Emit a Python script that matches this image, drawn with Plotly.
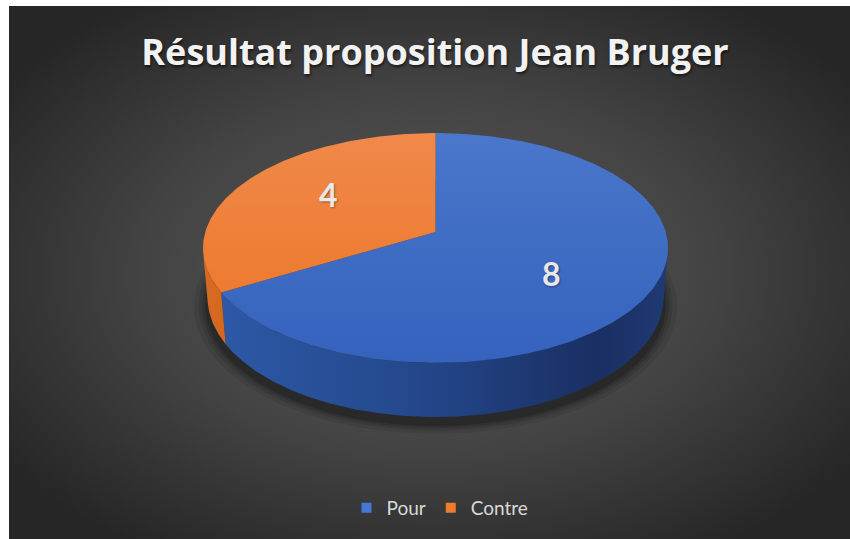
import base64
import numpy as np
import plotly.graph_objects as go

# ---- data ----
categories = ["Pour", "Contre"]
values = [8, 4]
title_text = "Résultat proposition Jean Bruger"

# ---- style ----
top_colors = [["#4a77ca", "#3462bd"], ["#f0894a", "#ec7424"]]
side_scales = [
    [[0, "#2d5aa8"], [0.45, "#24488c"], [0.85, "#1a2f63"], [1, "#1f3a74"]],
    [[0, "#d66a22"], [0.3, "#c65f1c"], [1, "#a84d14"]],
]
legend_colors = ["#4577d6", "#f07b2a"]

W, H = 850, 539
# perspective view of the pie (screen centre, elevation, camera distance, focal, thickness)
scx, scy = 435.5, 232.0
phi = np.radians(29.3)
D, F, h = 6.28, 1446.0, 0.25
cphi, sphi = np.cos(phi), np.sin(phi)


def proj(r, theta_deg, z=0.0):
    t = np.radians(theta_deg)
    X, Y = r * np.cos(t), r * np.sin(t)
    dep = Y * cphi + D - z * sphi
    up = Y * sphi + z * cphi
    return scx + X / dep * F, scy - up / dep * F


fig = go.Figure()

# soft shadow below the pie
th_all = np.linspace(0, 360, 241)
for k, op in [(1.06, 0.08), (1.04, 0.10), (1.025, 0.13), (1.012, 0.18)]:
    xs, ys = proj(k, th_all, -h - 0.02)
    fig.add_trace(go.Scatter(
        x=xs, y=ys + 3, fill="toself", mode="lines", line=dict(width=0),
        fillcolor=f"rgba(0,0,0,{op})", hoverinfo="skip", showlegend=False))

total = sum(values)
angles = []
a0 = 90.0
for v in values:
    a1 = a0 - v * 360.0 / total
    angles.append((a0, a1))
    a0 = a1

# side walls: visible where the outward normal faces the camera
for i, (s, e) in enumerate(angles):
    th = np.linspace(e, s, 600)
    vis = (-1 - D * cphi * np.sin(np.radians(th))) > 0
    if not vis.any():
        continue
    idx = np.where(vis)[0]
    segs = np.split(idx, np.where(np.diff(idx) > 1)[0] + 1)
    for seg in segs:
        ts = th[seg]
        xt, yt = proj(1.0, ts, 0.0)
        xb, yb = proj(1.0, ts[::-1], -h)
        fig.add_trace(go.Scatter(
            x=np.concatenate([xt, xb]), y=np.concatenate([yt, yb]),
            fill="toself", mode="lines", line=dict(width=0),
            fillgradient=dict(type="horizontal", colorscale=side_scales[i],
                              start=scx - 232.5, stop=scx + 232.5),
            hoverinfo="skip", showlegend=False))

# top faces
for i, (s, e) in enumerate(angles):
    th = np.linspace(s, e, 240)
    xa, ya = proj(1.0, th, 0.0)
    fig.add_trace(go.Scatter(
        x=np.concatenate([[scx], xa, [scx]]), y=np.concatenate([[scy], ya, [scy]]),
        fill="toself", mode="lines", line=dict(width=0),
        fillgradient=dict(type="vertical",
                          colorscale=[[0, top_colors[i][0]], [1, top_colors[i][1]]],
                          start=133, stop=363),
        hoverinfo="skip", showlegend=False))

# data labels
for i, (s, e) in enumerate(angles):
    mid = (s + e) / 2
    lx, _ = proj(0.56, mid, 0.0)
    _, ly = proj(0.70, mid, 0.0)
    fig.add_annotation(x=lx, y=ly, text=f"<b>{values[i]}</b>", showarrow=False,
                       font=dict(family="Lato", size=32, color="#e8e8e8",
                                 shadow="1px 1px 2px rgba(0,0,0,0.35)"),
                       xanchor="center", yanchor="middle")

# legend entries
for i, c in enumerate(categories):
    fig.add_trace(go.Scatter(x=[None], y=[None], mode="markers", name=c,
                             marker=dict(symbol="square", size=10, color=legend_colors[i])))

svg = (
    '<svg xmlns="http://www.w3.org/2000/svg" width="841" height="533" viewBox="0 0 841 533" preserveAspectRatio="none">'
    '<defs><radialGradient id="g" cx="50%" cy="50%" r="62%">'
    '<stop offset="0%" stop-color="#5a5a5a"/><stop offset="55%" stop-color="#434343"/>'
    '<stop offset="100%" stop-color="#262626"/></radialGradient></defs>'
    '<rect width="841" height="533" fill="url(#g)"/></svg>'
)
uri = "data:image/svg+xml;base64," + base64.b64encode(svg.encode()).decode()

fig.update_layout(
    width=W, height=H,
    margin=dict(l=0, r=0, t=0, b=0),
    paper_bgcolor="white", plot_bgcolor="rgba(0,0,0,0)",
    images=[dict(source=uri, xref="paper", yref="paper", x=9 / W, y=1 - 6 / H,
                 sizex=841 / W, sizey=533 / H, xanchor="left", yanchor="top",
                 sizing="stretch", layer="below")],
    xaxis=dict(range=[0, W], visible=False, fixedrange=True),
    yaxis=dict(range=[H, 0], visible=False, fixedrange=True),
    title=dict(text=title_text, x=435 / W, xanchor="center", y=1 - 52 / H, yanchor="middle",
               font=dict(family="Open Sans", size=36, color="#f2f2f2", weight="bold",
                         shadow="1px 2px 3px rgba(0,0,0,0.6)")),
    legend=dict(orientation="h", x=440 / W, xanchor="center", y=1 - 508 / H, yanchor="middle",
                font=dict(family="Lato", size=19, color="#d9d9d9"),
                bgcolor="rgba(0,0,0,0)", itemclick=False, itemwidth=30),
    showlegend=True,
)

fig.write_html("out.html")
